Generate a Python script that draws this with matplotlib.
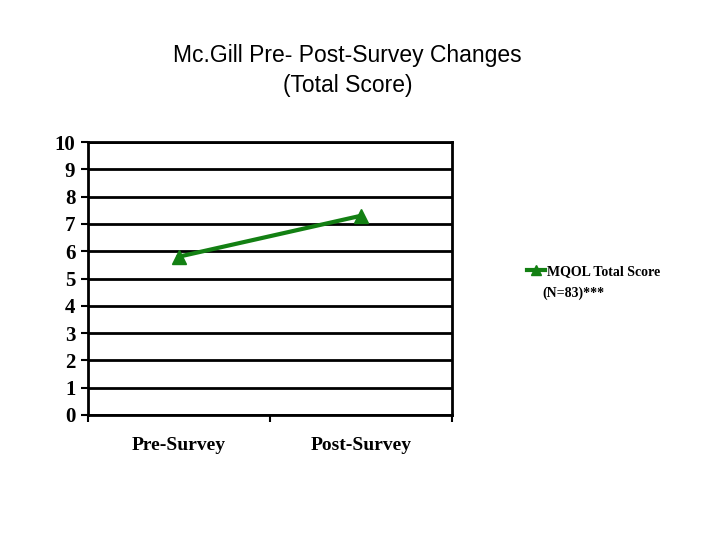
import matplotlib.pyplot as plt
import numpy as np

# chart data
categories = ['Pre-Survey', 'Post-Survey']
scores = [5.8, 7.3]
series_label = 'MQOL Total Score'
series_note = '(N=83)***'
yticks = list(range(0, 11))

green = '#138013'

fig = plt.figure(figsize=(7.2, 5.4), dpi=100)
ax = fig.add_axes([0.122, 0.2315, 0.506, 0.5055])

x = np.arange(len(categories)) + 0.5
ax.plot(x, scores, color=green, lw=3, marker='^', markersize=10,
        label=series_label)

ax.set_xlim(0, 2)
ax.set_ylim(0, 10)
ax.set_yticks(yticks)
ax.set_yticklabels([str(v) for v in yticks], family='Liberation Serif',
                   fontweight='bold', fontsize=15)
ax.yaxis.grid(True, color='black', lw=2)
ax.set_axisbelow(True)

# category labels between the boundary ticks
ax.set_xticks([0, 1, 2])
ax.set_xticklabels([])
ax.set_xticks(x, minor=True)
ax.set_xticklabels(categories, minor=True, family='Liberation Serif',
                   fontweight='bold', fontsize=14)
ax.tick_params(axis='x', which='minor', length=0, pad=16)
ax.tick_params(axis='x', which='major', length=5, width=1.5, direction='out')
ax.tick_params(axis='y', length=5, width=1.5, direction='out', pad=4)

for s in ax.spines.values():
    s.set_linewidth(2)
    s.set_color('black')

fig.text(0.483, 0.898, 'Mc.Gill Pre- Post-Survey Changes', ha='center',
         va='center', family='Liberation Sans', fontsize=16.5)
fig.text(0.483, 0.842, '(Total Score)', ha='center', va='center',
         family='Liberation Sans', fontsize=16.5)

fig.legend(loc='center left', bbox_to_anchor=(0.715, 0.497), frameon=False,
           handlelength=1.3, handletextpad=0.15, markerscale=0.7,
           prop={'family': 'Liberation Serif', 'weight': 'bold', 'size': 10})
fig.text(0.753, 0.457, series_note, ha='left', va='center',
         family='Liberation Serif', fontweight='bold', fontsize=10)

fig.savefig('out.png', dpi=100)
